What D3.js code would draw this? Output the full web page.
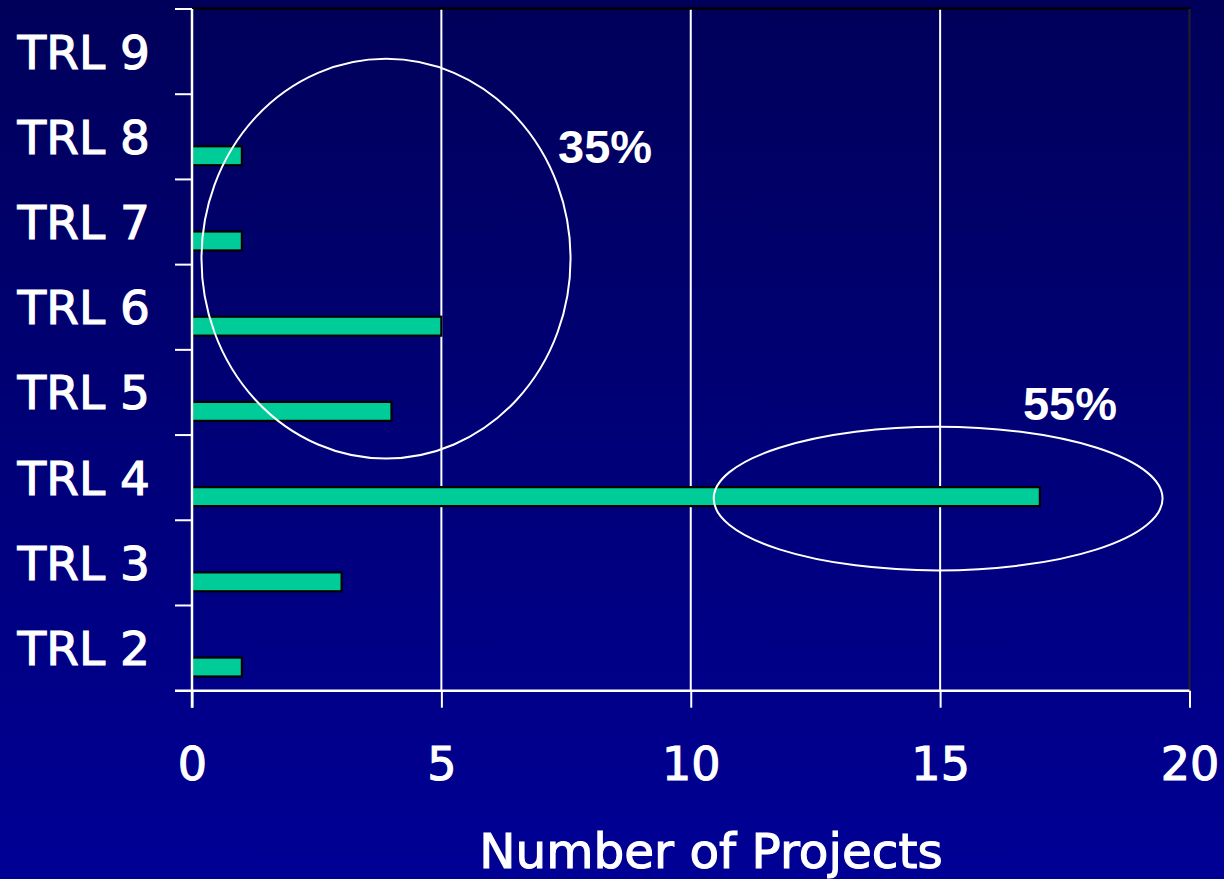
<!DOCTYPE html>
<html>
<head>
<meta charset="utf-8">
<script src="https://cdn.jsdelivr.net/npm/d3@7"></script>
<style>
  html, body { margin: 0; padding: 0; background: #000070; }
  svg { display: block; }
</style>
</head>
<body>
<svg id="chart" width="1224" height="879"></svg>
<script>
// ---- data ----
const categories = ["TRL 9", "TRL 8", "TRL 7", "TRL 6", "TRL 5", "TRL 4", "TRL 3", "TRL 2"];
const projects   = [0, 1, 1, 5, 4, 17, 3, 1];
const xTicks     = [0, 5, 10, 15, 20];
const xTitle     = "Number of Projects";
// annotations (x in project units, y in category-slot units counted from bottom)
const annoEllipses = [
  { cx: 3.89, cy: 5.07, rx: 3.70, ry: 2.345 },
  { cx: 14.96, cy: 2.255, rx: 4.50, ry: 0.843 }
];
const annoLabels = [
  { text: "35%", x: 7.34, y: 6.19 },
  { text: "55%", x: 16.66, y: 3.18 }
];

// ---- layout ----
const W = 1224, H = 879;
const plot = { left: 192, right: 1189.5, top: 9, bottom: 690.7 };
const labelFont = "'DejaVu Sans', Verdana, sans-serif";

const svg = d3.select("#chart");
const defs = svg.append("defs");
const grad = defs.append("linearGradient").attr("id", "bg")
  .attr("x1", 0).attr("y1", 0).attr("x2", 0).attr("y2", 1);
grad.append("stop").attr("offset", "0%").attr("stop-color", "#00005a");
grad.append("stop").attr("offset", "100%").attr("stop-color", "#000095");
svg.append("rect").attr("width", W).attr("height", H).attr("fill", "url(#bg)");

const x = d3.scaleLinear().domain([0, 20]).range([plot.left, plot.right]);
const y = d3.scaleBand().domain(categories).range([plot.top, plot.bottom]).padding(0);
const series = ["s1", "s2", "s3"];
const inner = d3.scaleBand().domain(series).range([0, y.bandwidth()]).paddingInner(0).paddingOuter(0.75);
const slot = d3.scaleLinear().domain([0, categories.length]).range([plot.bottom, plot.top]);

// gridlines
svg.append("g").selectAll("line").data(xTicks.filter(t => t > 0 && t < 20)).join("line")
  .attr("x1", d => x(d)).attr("x2", d => x(d))
  .attr("y1", plot.top).attr("y2", plot.bottom)
  .attr("stroke", "#ffffff").attr("stroke-width", 2);

// plot border top/right
svg.append("line").attr("x1", plot.left).attr("x2", plot.right + 1)
  .attr("y1", plot.top - 0.5).attr("y2", plot.top - 0.5)
  .attr("stroke", "#000000").attr("stroke-width", 2.5);
svg.append("line").attr("x1", plot.right).attr("x2", plot.right)
  .attr("y1", plot.top).attr("y2", plot.bottom)
  .attr("stroke", "#222222").attr("stroke-width", 2);

// bars
svg.append("g").selectAll("rect").data(categories).join("rect")
  .attr("x", x(0))
  .attr("y", (d) => y(d) + inner("s3"))
  .attr("width", (d, i) => x(projects[i]) - x(0))
  .attr("height", inner.bandwidth())
  .attr("fill", "#00cc99")
  .attr("stroke", "#000000")
  .attr("stroke-width", 2.2)
  .attr("display", (d, i) => projects[i] > 0 ? null : "none");

function heavy(sel, size) {
  sel.attr("fill", "#ffffff").attr("stroke", "#ffffff").attr("stroke-width", 1.1)
    .attr("paint-order", "stroke")
    .style("font-family", labelFont).style("font-size", size + "px");
}

// x axis
const xAxis = d3.axisBottom(x).tickValues(xTicks).tickFormat(d3.format("d"))
  .tickSize(17).tickPadding(40).tickSizeOuter(0);
const gx = svg.append("g").attr("transform", `translate(0,${plot.bottom})`).call(xAxis);
gx.select(".domain").attr("stroke", "#ffffff").attr("stroke-width", 2.5)
  .attr("d", `M${plot.left - 17},0H${plot.right}`);
gx.selectAll(".tick line").attr("stroke", "#ffffff").attr("stroke-width", 2);
gx.selectAll(".tick text").call(heavy, 46);

// y axis: labels on band centres, ticks on band boundaries
const yAxis = d3.axisLeft(y).tickSize(0).tickPadding(42);
const gy = svg.append("g").attr("transform", `translate(${plot.left},0)`).call(yAxis);
gy.select(".domain").attr("stroke", "#ffffff").attr("stroke-width", 2.5)
  .attr("d", `M0,${plot.top}V${plot.bottom + 17}`);
gy.selectAll(".tick text").attr("dy", "0.36em").call(heavy, 47);
const boundaries = d3.range(categories.length).map(i => slot(i + 1));
svg.append("g").selectAll("line").data(boundaries).join("line")
  .attr("x1", plot.left - 17).attr("x2", plot.left)
  .attr("y1", d => d).attr("y2", d => d)
  .attr("stroke", "#ffffff").attr("stroke-width", 2);

// x title
svg.append("text").attr("x", 711).attr("y", 868)
  .attr("text-anchor", "middle").call(heavy, 48.5)
  .text(xTitle);

// annotations
svg.append("g").selectAll("ellipse").data(annoEllipses).join("ellipse")
  .attr("cx", d => x(d.cx)).attr("cy", d => slot(d.cy))
  .attr("rx", d => x(d.rx) - x(0)).attr("ry", d => slot(0) - slot(d.ry))
  .attr("fill", "none").attr("stroke", "#ffffff").attr("stroke-width", 2);
svg.append("g").selectAll("text").data(annoLabels).join("text")
  .attr("x", d => x(d.x)).attr("y", d => slot(d.y))
  .attr("fill", "#ffffff")
  .style("font-family", "'Liberation Sans', Arial, sans-serif")
  .style("font-weight", "bold").style("font-size", "47px")
  .text(d => d.text);
</script>
</body>
</html>
